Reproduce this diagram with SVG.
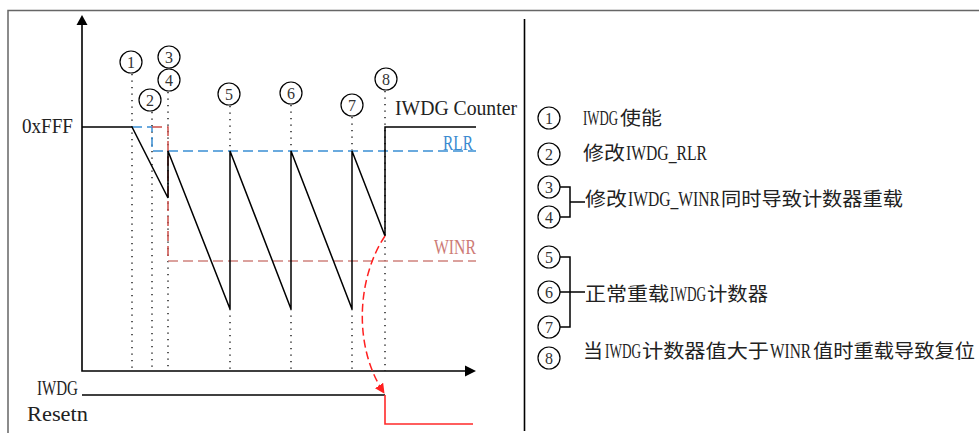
<svg xmlns="http://www.w3.org/2000/svg" width="979" height="433" viewBox="0 0 979 433">
<defs>
<style>
.frame{stroke:#666;stroke-width:1.5;fill:none}
.ax{stroke:#000;stroke-width:1.6;fill:none}
.sig{stroke:#000;stroke-width:1.5;fill:none}
.dot{stroke:#000;stroke-width:1.3;stroke-dasharray:1.3,5.2;fill:none}
.blue{stroke:#3a8fd4;stroke-width:1.5;stroke-dasharray:10,5;fill:none}
.redv{stroke:#cc4f4a;stroke-width:1.5;stroke-dasharray:10,5;fill:none}
.winr{stroke:#cf827d;stroke-width:1.5;stroke-dasharray:10,5;fill:none}
.arc{stroke:#ff2020;stroke-width:1.5;stroke-dasharray:8,4;fill:none}
.rst{stroke:#ff2a2a;stroke-width:1.6;fill:none}
.c{fill:#fff;stroke:#000;stroke-width:1.2}
.n{font-family:"Liberation Serif",serif;font-size:16px;fill:#333;text-anchor:middle}
.t{font-family:"Liberation Serif",serif;font-size:20px;fill:#222}
.lg{font-family:"Noto Sans CJK SC",sans-serif;font-size:19px;fill:#222}
.la{font-family:"Liberation Serif",serif;font-size:21px;fill:#222}
.br{stroke:#000;stroke-width:1.5;fill:none}
</style>
<marker id="arrRed" viewBox="0 0 10 10" refX="9" refY="5" markerWidth="10" markerHeight="10" markerUnits="userSpaceOnUse" orient="auto">
<path d="M0,0 L10,5 L0,10 Z" fill="#ff2020"/>
</marker>
</defs>
<rect width="979" height="433" fill="#fff"/>
<g id="frame">
<path class="frame" d="M8,433 V10.5 H979"/>
<path d="M524.5,19 V431" stroke="#000" stroke-width="1.6" fill="none"/>
</g>
<g id="axes">
<path class="ax" d="M82,24 V371 H465"/>
<path d="M82,15 L76.5,25 L87.5,25 Z" fill="#000"/>
<path d="M476,371 L465,365.5 L465,376.5 Z" fill="#000"/>
</g>
<g id="connectors">
<path class="dot" d="M132,74 V371 M152,112 V371 M168,92 V371 M230,106 V151 M230,309 V371 M291,105 V151 M291,309 V371 M352,117 V151 M352,309 V371 M385,91 V371"/>
<path class="blue" d="M132,127 H152 V151 H476"/>
<path class="redv" d="M152,127 H168 V261"/>
<path class="winr" d="M168,261 H476"/>
<path class="sig" d="M82,127 H132 L168,198 V151 L230,309 V151 L291,309 V151 L352,309 V151 L385,236 V127 H476"/>
<path class="arc" d="M385,236 C358,276 352,345 384,393" marker-end="url(#arrRed)"/>
<path class="sig" d="M82,395 H385"/>
<path class="rst" d="M385,395 V424 H473"/>
</g>
<g id="labels">
<text class="t" x="22" y="133" font-size="18" textLength="51" lengthAdjust="spacingAndGlyphs">0xFFF</text>
<text class="t" x="395" y="115" textLength="122" lengthAdjust="spacingAndGlyphs">IWDG Counter</text>
<text class="t" x="443" y="150" style="fill:#3a8ad0" textLength="30" lengthAdjust="spacingAndGlyphs">RLR</text>
<text class="t" x="434" y="254" style="fill:#cd7b76" textLength="42" lengthAdjust="spacingAndGlyphs">WINR</text>
<text class="t" x="37" y="395" textLength="41" lengthAdjust="spacingAndGlyphs">IWDG</text>
<text class="t" x="27" y="421" textLength="61" lengthAdjust="spacingAndGlyphs">Resetn</text>
</g>
<g id="m1"><circle class="c" cx="131" cy="62" r="11"/><text class="n" x="131" y="67.5">1</text></g>
<g id="m2"><circle class="c" cx="150" cy="100" r="11"/><text class="n" x="150" y="105.5">2</text></g>
<g id="m3"><circle class="c" cx="169" cy="57" r="11"/><text class="n" x="169" y="62.5">3</text></g>
<g id="m4"><circle class="c" cx="169" cy="80" r="11"/><text class="n" x="169" y="85.5">4</text></g>
<g id="m5"><circle class="c" cx="229" cy="94" r="11"/><text class="n" x="229" y="99.5">5</text></g>
<g id="m6"><circle class="c" cx="291" cy="93" r="11"/><text class="n" x="291" y="98.5">6</text></g>
<g id="m7"><circle class="c" cx="352" cy="105" r="11"/><text class="n" x="352" y="110.5">7</text></g>
<g id="m8"><circle class="c" cx="386" cy="79" r="11"/><text class="n" x="386" y="84.5">8</text></g>
<g id="legend">
<path class="br" d="M560,187 H570 V217 H560 M570,202 H585"/>
<path class="br" d="M560,257 H570 V327 H560 M560,292 H585"/>
<g id="l1"><circle class="c" cx="549" cy="118" r="11"/><text class="n" x="549" y="123.5">1</text>
<text class="la" x="583" y="125" textLength="35" lengthAdjust="spacingAndGlyphs">IWDG</text>
<text class="lg" x="620" y="125" textLength="42" lengthAdjust="spacingAndGlyphs">使能</text></g>
<g id="l2"><circle class="c" cx="549" cy="154" r="11"/><text class="n" x="549" y="159.5">2</text>
<text class="lg" x="583" y="160" textLength="42" lengthAdjust="spacingAndGlyphs">修改</text>
<text class="la" x="626" y="160" textLength="81" lengthAdjust="spacingAndGlyphs">IWDG_RLR</text></g>
<g id="l3"><circle class="c" cx="549" cy="187" r="11"/><text class="n" x="549" y="192.5">3</text></g>
<g id="l4"><circle class="c" cx="549" cy="217" r="11"/><text class="n" x="549" y="222.5">4</text></g>
<g id="l34text">
<text class="lg" x="585" y="206" textLength="42" lengthAdjust="spacingAndGlyphs">修改</text>
<text class="la" x="628" y="206" textLength="92" lengthAdjust="spacingAndGlyphs">IWDG_WINR</text>
<text class="lg" x="721" y="206" textLength="182" lengthAdjust="spacingAndGlyphs">同时导致计数器重载</text>
</g>
<g id="l5"><circle class="c" cx="549" cy="257" r="11"/><text class="n" x="549" y="262.5">5</text></g>
<g id="l6"><circle class="c" cx="549" cy="292" r="11"/><text class="n" x="549" y="297.5">6</text></g>
<g id="l7"><circle class="c" cx="549" cy="327" r="11"/><text class="n" x="549" y="332.5">7</text></g>
<g id="l567text">
<text class="lg" x="585" y="301" textLength="84" lengthAdjust="spacingAndGlyphs">正常重载</text>
<text class="la" x="670" y="301" textLength="36" lengthAdjust="spacingAndGlyphs">IWDG</text>
<text class="lg" x="707" y="301" textLength="61" lengthAdjust="spacingAndGlyphs">计数器</text>
</g>
<g id="l8"><circle class="c" cx="549" cy="358" r="11"/><text class="n" x="549" y="363.5">8</text>
<text class="lg" x="583" y="358" textLength="20" lengthAdjust="spacingAndGlyphs">当</text>
<text class="la" x="605" y="358" textLength="36" lengthAdjust="spacingAndGlyphs">IWDG</text>
<text class="lg" x="642" y="358" textLength="127" lengthAdjust="spacingAndGlyphs">计数器值大于</text>
<text class="la" x="770" y="358" textLength="41" lengthAdjust="spacingAndGlyphs">WINR</text>
<text class="lg" x="813" y="358" textLength="162" lengthAdjust="spacingAndGlyphs">值时重载导致复位</text></g>
</g>
</svg>
